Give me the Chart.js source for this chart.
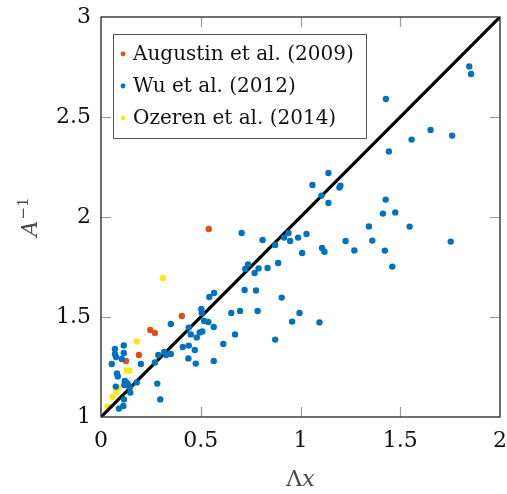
<!DOCTYPE html>
<html>
<head>
<meta charset="utf-8">
<script src="https://cdn.jsdelivr.net/npm/chart.js@4.4.1/dist/chart.umd.min.js"></script>
<style>
  html, body { margin: 0; padding: 0; background: #ffffff; }
  #wrap { width: 507px; height: 494px; }
</style>
</head>
<body>
<div id="wrap"><canvas id="c" width="507" height="494"></canvas></div>
<script>
// Series labels
const seriesNames = ['Augustin et al. (2009)', 'Wu et al. (2012)', 'Ozeren et al. (2014)'];
const seriesColors = ['#D95319', '#0072BD', '#F7E90B'];

// Augustin et al. (2009)
const augustinX = [0.125, 0.19, 0.247, 0.27, 0.405, 0.54];
const augustinY = [1.28, 1.31, 1.435, 1.42, 1.505, 1.94];

// Wu et al. (2012)
const wuX = [0.114, 0.07, 0.114, 0.07, 0.075, 0.054, 0.104, 0.2, 0.287, 0.317, 0.327, 0.27, 0.35,
             0.08, 0.084, 0.119, 0.13, 0.137, 0.144, 0.117, 0.179, 0.074, 0.147, 0.282, 0.297, 0.115, 0.112, 0.09,
             0.35, 0.41, 0.44, 0.47, 0.438, 0.475, 0.565, 0.44, 0.45, 0.495, 0.508, 0.48, 0.503, 0.505, 0.517, 0.538,
             0.565, 0.543, 0.567, 0.613, 0.672, 0.653, 0.697, 0.785, 0.72, 0.777, 0.906, 0.873, 0.995, 0.958, 1.095,
             0.705, 0.81, 0.873, 0.918, 0.94, 0.948, 0.988, 1.03, 1.008, 1.108, 1.12, 0.888, 0.737, 0.723, 0.79, 0.835, 0.77,
             1.14, 1.06, 1.2, 1.195, 1.105, 1.14, 1.428, 1.652, 1.76, 1.557, 1.443, 1.427, 1.413, 1.475, 1.343, 1.547,
             1.226, 1.36, 1.27, 1.423, 1.46, 1.753, 1.846, 1.855];
const wuY = [1.358, 1.34, 1.32, 1.315, 1.30, 1.265, 1.29, 1.265, 1.31, 1.325, 1.31, 1.273, 1.315,
             1.218, 1.203, 1.18, 1.17, 1.16, 1.148, 1.16, 1.173, 1.152, 1.122, 1.167, 1.088, 1.088, 1.055, 1.042,
             1.465, 1.35, 1.357, 1.335, 1.293, 1.267, 1.28, 1.447, 1.413, 1.423, 1.428, 1.398, 1.54, 1.52, 1.48, 1.475,
             1.45, 1.60, 1.62, 1.365, 1.413, 1.52, 1.53, 1.53, 1.635, 1.633, 1.597, 1.387, 1.52, 1.477, 1.473,
             1.92, 1.885, 1.86, 1.897, 1.92, 1.88, 1.897, 1.915, 1.82, 1.845, 1.826, 1.77, 1.763, 1.74, 1.743, 1.745, 1.72,
             2.22, 2.16, 2.157, 2.147, 2.107, 2.07, 2.59, 2.435, 2.407, 2.387, 2.328, 2.087, 2.017, 2.023, 1.953, 1.952,
             1.88, 1.882, 1.833, 1.832, 1.752, 1.877, 2.753, 2.715];

// Ozeren et al. (2014)
const ozerenX = [0.033, 0.058, 0.077, 0.084, 0.13, 0.143, 0.18, 0.31];
const ozerenY = [1.052, 1.10, 1.127, 1.148, 1.233, 1.233, 1.377, 1.695];

// Reference line A^-1 = 1 + Λx
const diagX = [0, 2];
const diagY = [1, 3];

// Axis ticks
const xTicks = [0, 0.5, 1, 1.5, 2];
const yTicks = [1, 1.5, 2, 2.5, 3];

const toPoints = (xs, ys) => xs.map((x, i) => ({ x: x, y: ys[i] }));
const SERIF = 'DejaVu Serif';
Chart.defaults.font.family = SERIF;

// Inner tick marks on all four sides plus the plot frame
const framePlugin = {
  id: 'frame',
  afterDatasetsDraw(chart) {
    const { ctx, chartArea: a, scales } = chart;
    ctx.save();
    ctx.strokeStyle = '#9a9a9a';
    ctx.lineWidth = 1.2;
    const len = 10;
    xTicks.slice(1, -1).forEach(v => {
      const px = Math.round(scales.x.getPixelForValue(v)) + 0.5;
      ctx.beginPath();
      ctx.moveTo(px, a.bottom); ctx.lineTo(px, a.bottom - len);
      ctx.moveTo(px, a.top); ctx.lineTo(px, a.top + len);
      ctx.stroke();
    });
    yTicks.slice(1, -1).forEach(v => {
      const py = Math.round(scales.y.getPixelForValue(v)) + 0.5;
      ctx.beginPath();
      ctx.moveTo(a.left, py); ctx.lineTo(a.left + len, py);
      ctx.moveTo(a.right, py); ctx.lineTo(a.right - len, py);
      ctx.stroke();
    });
    ctx.strokeStyle = '#333333';
    ctx.lineWidth = 1.4;
    ctx.strokeRect(a.left, a.top, a.right - a.left, a.bottom - a.top);
    ctx.restore();
  }
};

// Legend box in the upper-left corner of the plot
const legendPlugin = {
  id: 'innerLegend',
  afterDraw(chart) {
    const { ctx, chartArea: a } = chart;
    const bx = a.left + 12, by = a.top + 17, bw = 253, bh = 104;
    ctx.save();
    ctx.fillStyle = '#ffffff';
    ctx.fillRect(bx, by, bw, bh);
    ctx.strokeStyle = '#555555';
    ctx.lineWidth = 1;
    ctx.strokeRect(bx + 0.5, by + 0.5, bw, bh);
    ctx.font = '20px ' + SERIF;
    ctx.textBaseline = 'middle';
    ctx.textAlign = 'left';
    seriesNames.forEach((name, i) => {
      const cy = by + 20 + i * 32;
      ctx.fillStyle = seriesColors[i];
      ctx.beginPath();
      ctx.arc(bx + 10, cy, 2.4, 0, Math.PI * 2);
      ctx.fill();
      ctx.fillStyle = '#111111';
      ctx.fillText(name, bx + 20, cy + 1);
    });
    ctx.restore();
  }
};

// Axis titles with mixed upright / italic glyphs
const titlePlugin = {
  id: 'axisTitles',
  afterDraw(chart) {
    const { ctx, chartArea: a } = chart;
    ctx.save();
    ctx.fillStyle = '#4a4a4a';
    ctx.textBaseline = 'alphabetic';
    // x title: Λx
    const up = '22px ' + SERIF, it = 'italic 22px ' + SERIF;
    ctx.font = up; const w1 = ctx.measureText('Λ').width;
    ctx.font = it; const w2 = ctx.measureText('x').width;
    const cx = (a.left + a.right) / 2;
    let x0 = cx - (w1 + w2) / 2;
    ctx.font = up; ctx.fillText('Λ', x0, 486);
    ctx.font = it; ctx.fillText('x', x0 + w1, 486);
    // y title: A^-1
    ctx.translate(37, (a.top + a.bottom) / 2);
    ctx.rotate(-Math.PI / 2);
    ctx.font = it; const wa = ctx.measureText('A').width;
    const sup = '15px ' + SERIF;
    ctx.font = sup; const ws = ctx.measureText('−1').width;
    const s0 = -(wa + ws + 1) / 2;
    ctx.font = it; ctx.fillText('A', s0, 0);
    ctx.font = sup; ctx.fillText('−1', s0 + wa + 1, -9);
    ctx.restore();
  }
};

const fixScale = (size, horizontal) => (s) => {
  if (horizontal) s.height = size; else s.width = size;
  s.paddingLeft = s.paddingRight = s.paddingTop = s.paddingBottom = 0;
};

const pointSet = (label, xs, ys, color, order) => ({
  type: 'scatter',
  label: label,
  data: toPoints(xs, ys),
  backgroundColor: color,
  borderWidth: 0,
  pointRadius: 3.2,
  pointHoverRadius: 3.2,
  order: order
});

const tickText = (v) => String(v);

new Chart(document.getElementById('c'), {
  type: 'scatter',
  data: {
    datasets: [
      pointSet(seriesNames[1], wuX, wuY, seriesColors[1], 0),
      pointSet(seriesNames[0], augustinX, augustinY, seriesColors[0], 1),
      {
        type: 'line',
        label: 'diagonal',
        data: toPoints(diagX, diagY),
        borderColor: '#000000',
        borderWidth: 3.2,
        pointRadius: 0,
        fill: false,
        order: 2
      },
      pointSet(seriesNames[2], ozerenX, ozerenY, seriesColors[2], 3)
    ]
  },
  options: {
    responsive: false,
    animation: false,
    events: [],
    layout: { padding: { top: 17, right: 7, left: 0, bottom: 0 } },
    plugins: { legend: { display: false }, tooltip: { enabled: false } },
    scales: {
      x: {
        type: 'linear', min: 0, max: 2,
        afterBuildTicks: (s) => { s.ticks = xTicks.map(v => ({ value: v })); },
        afterFit: fixScale(77, true),
        grid: { display: false, drawTicks: false },
        border: { display: false },
        ticks: { color: '#111111', padding: 11, maxRotation: 0, callback: tickText,
                 font: { family: SERIF, size: 22 } }
      },
      y: {
        type: 'linear', min: 1, max: 3,
        afterBuildTicks: (s) => { s.ticks = yTicks.map(v => ({ value: v })); },
        afterFit: fixScale(101, false),
        grid: { display: false, drawTicks: false },
        border: { display: false },
        ticks: { color: '#111111', padding: 10, callback: tickText,
                 font: { family: SERIF, size: 22 } }
      }
    }
  },
  plugins: [framePlugin, legendPlugin, titlePlugin]
});
</script>
</body>
</html>
